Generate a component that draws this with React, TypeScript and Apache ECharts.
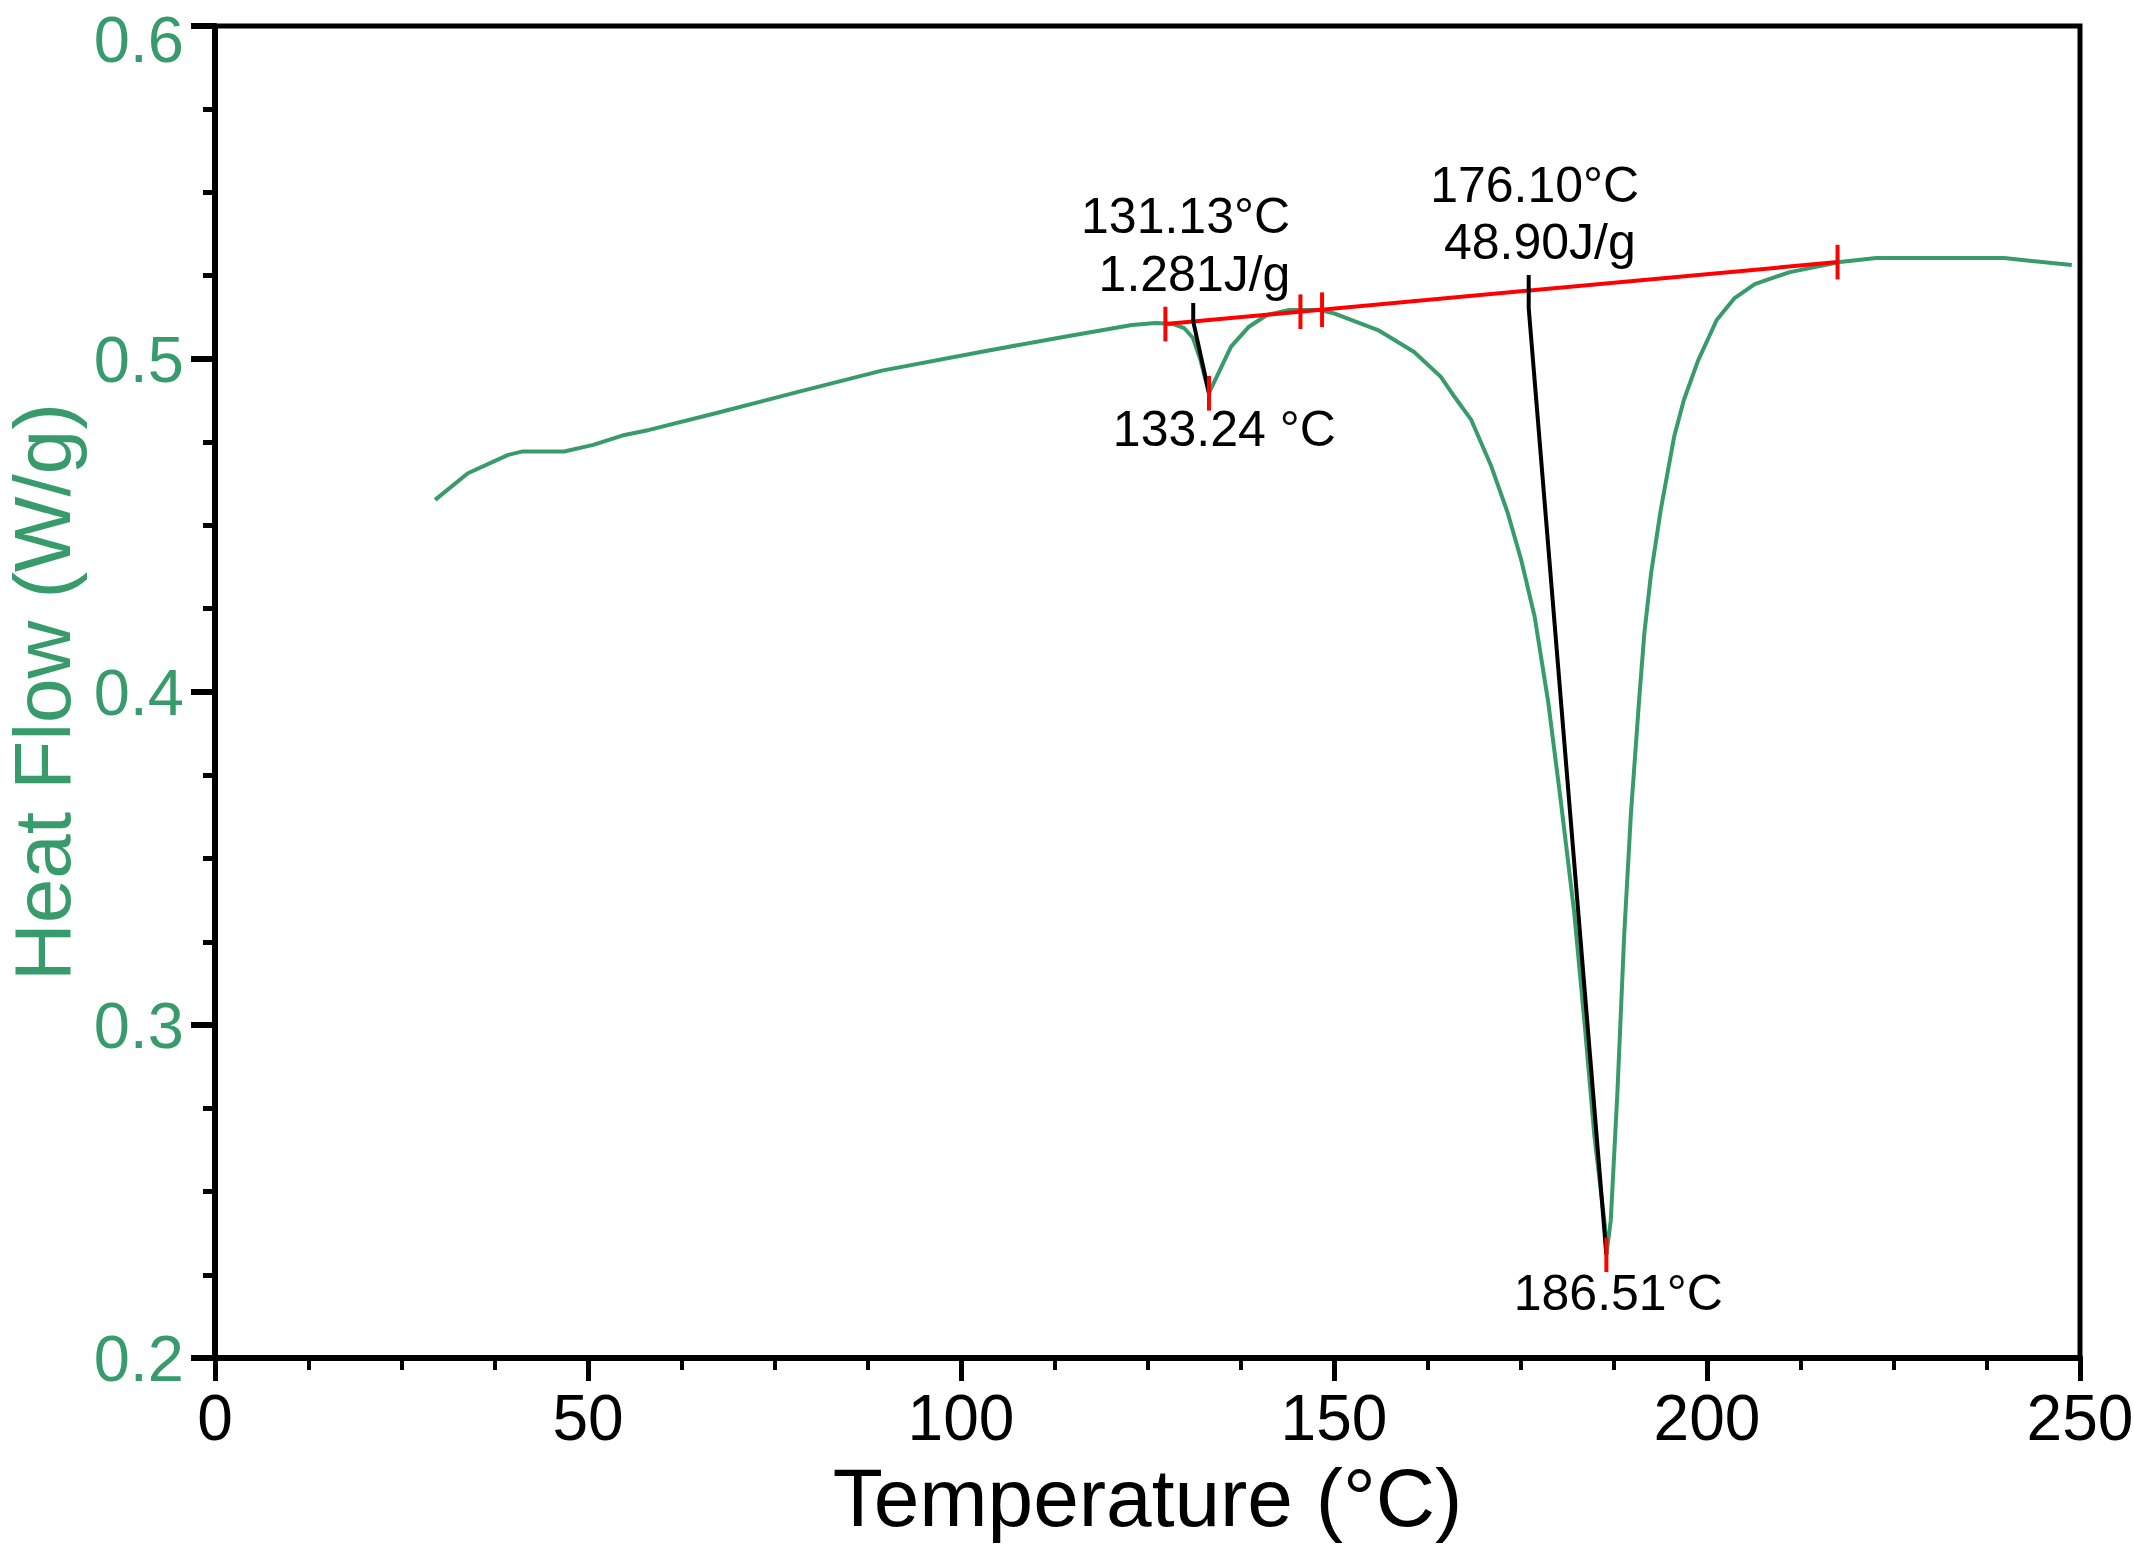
import { useRef, useEffect } from 'react';
import * as echarts from 'echarts';

// DSC heat-flow curve
const temperature = [
  29.5, 33.9, 39.3, 41.1, 46.8, 50.7, 54.9, 58.2, 67.1, 78.3, 89.4, 102.8, 113.9,
  122.9, 126.1, 128.5, 129.9, 131.1, 132.1, 133.24, 133.6, 136.2, 138.6, 141.0,
  144.0, 148.1, 150.0, 155.9, 160.7, 164.3, 166.2, 168.4, 171.1, 173.3, 175.1,
  176.9, 178.7, 180.4, 182.2, 183.6, 184.9, 186.3, 186.51, 187.1, 188.0, 188.9,
  189.8, 190.9, 191.6, 192.5, 193.8, 195.6, 196.9, 198.8, 201.3, 203.7, 206.4,
  211.1, 217.8, 222.7, 239.8, 248.9,
];
const heatFlow = [
  0.4577, 0.4657, 0.4712, 0.4722, 0.4722, 0.4742, 0.4772, 0.4787, 0.4837, 0.4902,
  0.4965, 0.5022, 0.5067, 0.5102, 0.5108, 0.5105, 0.5093, 0.5063, 0.4997, 0.4897,
  0.4915, 0.5037, 0.5097, 0.5132, 0.5147, 0.5147, 0.5137, 0.5087, 0.5022, 0.4947,
  0.4885, 0.4817, 0.4677, 0.4537, 0.4396, 0.4226, 0.3972, 0.3673, 0.3338, 0.3003,
  0.2668, 0.24, 0.231, 0.2413, 0.2802, 0.327, 0.3634, 0.3976, 0.4176, 0.4356,
  0.4547, 0.4767, 0.4877, 0.4995, 0.5117, 0.5183, 0.5225, 0.5261, 0.5291, 0.5303,
  0.5303, 0.5282,
];

// integration baseline and its limit marks
const baselineT = [127.4, 217.5];
const baselineHF = [0.5105, 0.5291];
const limitT = [127.4, 145.5, 148.4, 217.5];
const limitHF = [0.5105, 0.5142, 0.5148, 0.5291];

// peak minima
const peakT = [133.24, 186.51];
const peakHF = [0.4897, 0.231];

// onset tangents
const onset1T = [131.13, 131.13, 133.24];
const onset1HF = [0.5168, 0.5113, 0.4897];
const onset2T = [176.1, 176.1, 186.51];
const onset2HF = [0.5252, 0.5153, 0.231];

// annotation texts
const noteTexts = ['131.13°C', '1.281J/g', '133.24 °C', '176.10°C', '48.90J/g', '186.51°C'];
const noteT = [130.1, 131.3, 135.3, 176.9, 177.6, 188.1];
const noteHF = [0.543, 0.5256, 0.479, 0.5524, 0.5352, 0.2196];

const GREEN = '#389b6b';
const FONT = '"Liberation Sans", Arial, sans-serif';
const MARK_HALF = 0.0052;

const zip = (xs: number[], ys: number[]) => xs.map((x, i) => [x, ys[i]]);

export default function App() {
  const chartRef = useRef<HTMLDivElement>(null);

  useEffect(() => {
    document.body.style.margin = '0';
    let chart: echarts.ECharts | undefined;
    if (chartRef.current) {
      chart = echarts.init(chartRef.current, undefined, { renderer: 'svg' });

      const seg = (data: number[][], color: string, width: number, z: number) => ({
        type: 'line',
        data,
        symbol: 'none',
        silent: true,
        z,
        lineStyle: { color, width },
      });

      const marks = [
        ...limitT.map((t, i) => seg([[t, limitHF[i] - MARK_HALF], [t, limitHF[i] + MARK_HALF]], '#ff0000', 4, 6)),
        ...peakT.map((t, i) => seg([[t, peakHF[i] - MARK_HALF], [t, peakHF[i] + MARK_HALF]], '#ff0000', 4, 6)),
      ];

      chart.setOption({
        animation: false,
        grid: {
          left: 215,
          right: 54,
          top: 26,
          bottom: 191,
          outerBoundsMode: 'none',
          show: true,
          borderColor: '#000',
          borderWidth: 5,
          backgroundColor: 'transparent',
        },
        xAxis: {
          type: 'value',
          min: 0,
          max: 250,
          interval: 50,
          name: 'Temperature (°C)',
          nameLocation: 'middle',
          nameGap: 98,
          nameTextStyle: { fontSize: 82, color: '#000', fontFamily: FONT },
          axisLine: { show: true, onZero: false, lineStyle: { color: '#000', width: 6 } },
          axisTick: { show: true, length: 23, lineStyle: { color: '#000', width: 5 } },
          minorTick: { show: true, splitNumber: 4, length: 12, lineStyle: { color: '#000', width: 4 } },
          axisLabel: { fontSize: 64, color: '#000', margin: 28, fontFamily: FONT },
          splitLine: { show: false },
          minorSplitLine: { show: false },
        },
        yAxis: {
          type: 'value',
          min: 0.2,
          max: 0.6,
          interval: 0.1,
          name: 'Heat Flow (W/g)',
          nameLocation: 'middle',
          nameRotate: 90,
          nameGap: 128,
          nameTextStyle: { fontSize: 80, lineHeight: 70, color: GREEN, fontFamily: FONT },
          axisLine: { show: true, onZero: false, lineStyle: { color: '#000', width: 6 } },
          axisTick: { show: true, length: 24, lineStyle: { color: '#000', width: 6 } },
          minorTick: { show: true, splitNumber: 4, length: 12, lineStyle: { color: '#000', width: 5 } },
          axisLabel: {
            fontSize: 65,
            lineHeight: 26,
            verticalAlignMaxLabel: 'top',
            color: GREEN,
            margin: 31,
            fontFamily: FONT,
            formatter: (v: number) => v.toFixed(1),
          },
          splitLine: { show: false },
          minorSplitLine: { show: false },
        },
        series: [
          seg(zip(temperature, heatFlow), GREEN, 4, 2),
          seg(zip(baselineT, baselineHF), '#ff0000', 4, 3),
          seg(zip(onset1T, onset1HF), '#000', 4, 4),
          seg(zip(onset2T, onset2HF), '#000', 4, 4),
          ...marks,
          {
            type: 'scatter',
            silent: true,
            symbolSize: 0,
            itemStyle: { color: '#000', opacity: 1 },
            z: 7,
            data: noteTexts.map((name, i) => ({ name, value: [noteT[i], noteHF[i]] })),
            label: {
              show: true,
              position: 'inside',
              formatter: '{b}',
              fontSize: 50,
              color: '#000',
              opacity: 1,
              textBorderWidth: 0,
              fontFamily: FONT,
            },
          },
        ],
      });
    }
    return () => {
      chart?.dispose();
    };
  }, []);

  return <div ref={chartRef} style={{ width: 2134, height: 1549 }} />;
}
